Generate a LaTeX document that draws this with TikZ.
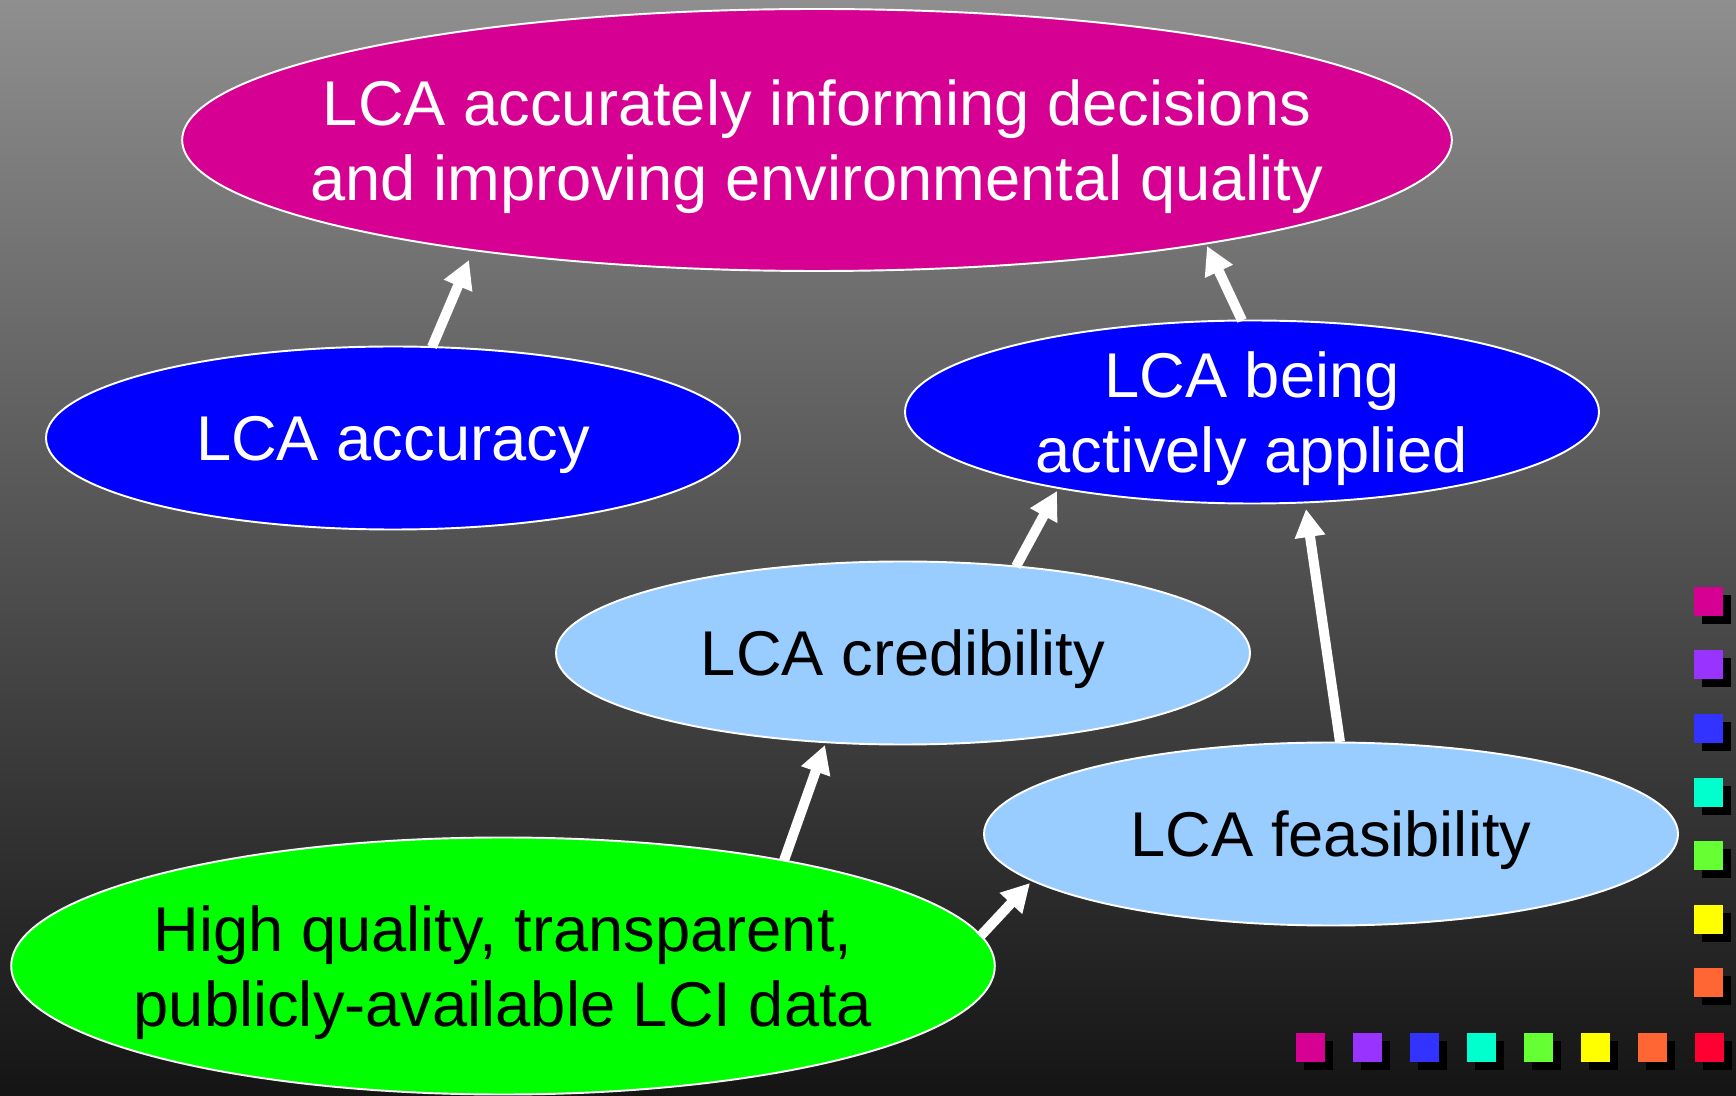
\documentclass[tikz,border=0pt]{standalone}
\usepackage{fontspec}
\setmainfont{Liberation Sans}
\usetikzlibrary{shapes.geometric,arrows.meta,calc}

\definecolor{lcamag}{HTML}{D60093}
\definecolor{lcapur}{HTML}{9933FF}
\definecolor{lcablu}{HTML}{3333FF}
\definecolor{lcacya}{HTML}{00FFCC}
\definecolor{lcagrn}{HTML}{66FF33}
\definecolor{lcayel}{HTML}{FFFF00}
\definecolor{lcaora}{HTML}{FF6633}
\definecolor{lcared}{HTML}{FF0033}
\definecolor{lcasky}{HTML}{99CCFF}

\tikzset{
	goal/.style={ellipse, draw=white, line width=1.1pt, inner sep=0pt, align=center, text depth=0pt,
		font=\fontsize{36}{43}\selectfont},
	small/.style={goal, minimum width=13.88cm, minimum height=3.66cm},
	arrow/.style={-{Triangle[length=0.56cm, width=0.58cm]}, white, line width=0.2cm}
}

\begin{document}
\begin{tikzpicture}
		\useasboundingbox (0,0) rectangle (34.72,21.9);
		\shade[top color=black!44, bottom color=black!92] (0,0) rectangle (34.72,21.9);

		\node[goal, fill=lcamag, text=white, inner xsep=-1.15cm, minimum width=25.36cm, minimum height=5.24cm] (top) at (16.34,19.10) {LCA accurately informing decisions\\and improving environmental quality};
		\node[small, fill=blue, text=white] (acc) at (7.86,13.14) {LCA accuracy};
		\node[small, fill=blue, text=white] (appl) at (25.04,13.66) {LCA being\\actively applied};
		\node[small, fill=lcasky] (cred) at (18.06,8.84) {LCA credibility};
		\node[small, fill=lcasky] (feas) at (26.62,5.22) {LCA feasibility};
		\node[goal, fill=green, inner xsep=-0.43cm, minimum width=19.6cm, minimum height=5.14cm] (data) at (10.06,2.58) {High quality, transparent,\\publicly-available LCI data};

		\draw[arrow] ($(acc)+(0.78,1.82)$) -- ($(top)+(-6.96,-2.40)$);
		\draw[arrow] ($(appl)+(-0.20,1.83)$) -- ($(top)+(7.80,-2.12)$);
		\draw[arrow] ($(cred)+(2.26,1.73)$) -- ($(appl)+(-3.90,-1.58)$);
		\draw[arrow] ($(feas)+(0.18,1.84)$) -- ($(appl)+(1.08,-1.94)$);
		\draw[arrow] ($(data)+(5.62,2.11)$) -- ($(cred)+(-1.56,-1.84)$);
		\draw[arrow] ($(data)+(9.54,0.59)$) -- ($(feas)+(-6.02,-0.98)$);

		% colour squares on the right and at the bottom
		\foreach \c [count=\i from 0] in {lcamag,lcapur,lcablu,lcacya,lcagrn,lcayel,lcaora} {
			\pgfmathsetmacro{\y}{10.16-1.27*\i}
			\fill[black] (34.04,\y-0.74) rectangle ++(0.58,0.58);
			\fill[\c] (33.88,\y-0.58) rectangle ++(0.58,0.58);
		}
		\foreach \c [count=\i from 0] in {lcamag,lcapur,lcablu,lcacya,lcagrn,lcayel,lcaora,lcared} {
			\pgfmathsetmacro{\x}{25.92+1.14*\i}
			\fill[black] (\x+0.16,0.5) rectangle ++(0.58,0.58);
			\fill[\c] (\x,0.66) rectangle ++(0.58,0.58);
		}
	\end{tikzpicture}
\end{document}
